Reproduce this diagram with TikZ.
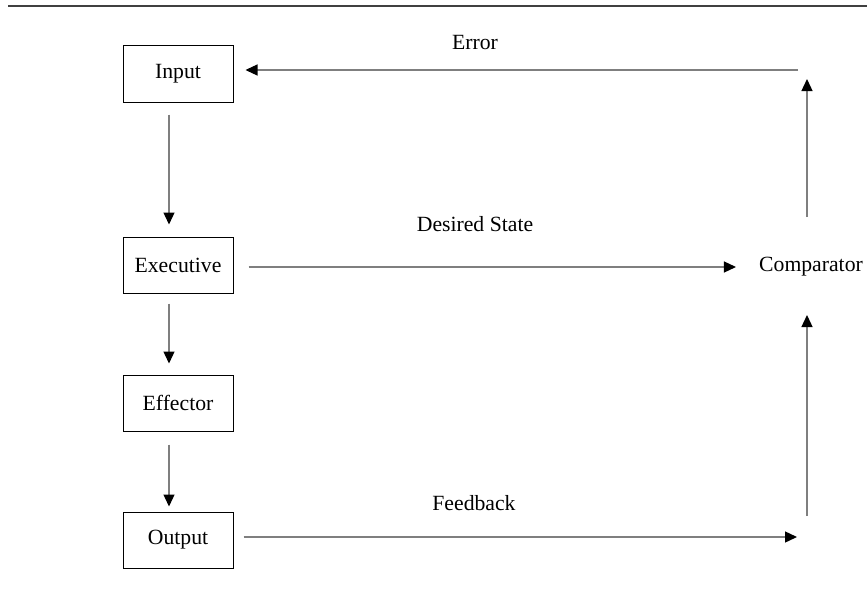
\documentclass[tikz,border=0pt]{standalone}
\usepackage{fontspec}
\setmainfont{Liberation Serif}
\usetikzlibrary{arrows.meta,calc}

\definecolor{linegray}{HTML}{7F7F7F}
\definecolor{rulegray}{HTML}{404040}

\tikzset{
  stage/.style={draw=black, line width=1pt, minimum width=110pt, minimum height=56pt,
                inner sep=0pt, font=\fontsize{21.7}{26}\selectfont},
  lbl/.style={inner sep=0pt, font=\fontsize{21.7}{26}\selectfont},
  flow/.style={draw=linegray, line width=1.3pt,
               -{Triangle[length=12pt,width=11pt,color=black]}},
}

\begin{document}
\begin{tikzpicture}[x=1pt,y=-1pt]
  \useasboundingbox (0,0) rectangle (867,594);

  % top rule
  \draw[rulegray, line width=1.6pt] (8,6) -- (867,6);

  % stage boxes
  \node[stage] (in)  at (178,74)  {Input};
  \node[stage] (ex)  at (178,265) {Executive};
  \node[stage] (ef)  at (178,403) {Effector};
  \node[stage] (out) at (178,540) {Output};

  % comparator and loop corners
  \node[lbl] (cmp) at (811,267) {Comparator};
  \coordinate (top) at (807,70);
  \coordinate (bot) at (807,537);

  % arrow labels
  \node[lbl] (lerr) at (475,43)  {Error};
  \node[lbl] (ldes) at (475,224) {Desired State};
  \node[lbl] (lfb)  at (474,503) {Feedback};

  % forward chain
  \draw[flow, shorten <=12pt, shorten >=12pt]
    ([xshift=-9pt]in.south) -- ([xshift=-9pt]ex.north);
  \draw[flow, shorten <=10pt, shorten >=11pt]
    ([xshift=-9pt]ex.south) -- ([xshift=-9pt]ef.north);
  \draw[flow, shorten <=13pt, shorten >=5pt]
    ([xshift=-9pt]ef.south) -- ([xshift=-9pt]out.north);

  % desired state into the comparator
  \draw[flow, shorten <=15pt, shorten >=23pt]
    (ex.east |- cmp.center) -- (cmp.west);

  % feedback loop
  \draw[flow, shorten <=10pt] (out.east |- bot) -- ([xshift=-10pt]bot);
  \draw[flow] ([yshift=21pt]bot) -- ([yshift=-48pt]cmp.center -| bot);

  % error loop
  \draw[flow] ([yshift=50pt]cmp.center -| top) -- ([yshift=-9pt]top);
  \draw[flow, shorten >=12pt] ([xshift=-9pt]top) -- (in.east |- top);
\end{tikzpicture}
\end{document}
